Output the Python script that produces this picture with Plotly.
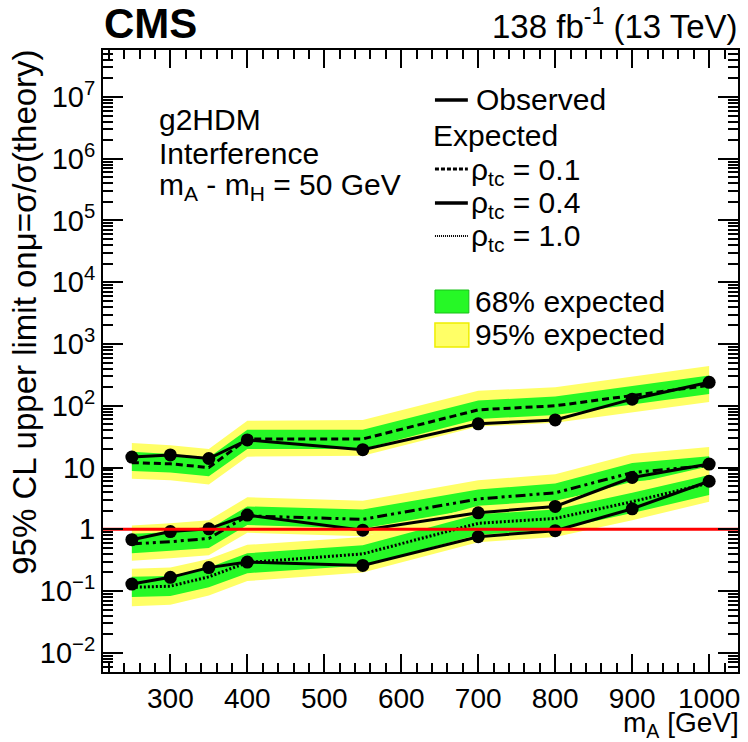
import plotly.graph_objects as go

# --- data -----------------------------------------------------------------
mass = [250, 300, 350, 400, 550, 700, 800, 900, 1000]

# rho_tc = 0.1
obs_01 = [14.8, 16.0, 14.0, 28.0, 19.5, 51.0, 59.0, 128.0, 240.0]
exp_01 = [12.0, 11.5, 10.0, 29.0, 29.0, 86.0, 100.0, 147.0, 215.0]
p2_01 = [25.0, 23.0, 20.0, 57.0, 59.0, 175.0, 200.0, 300.0, 440.0]
p1_01 = [18.0, 16.5, 14.5, 41.0, 41.0, 122.0, 142.0, 210.0, 310.0]
m1_01 = [8.8, 8.3, 7.2, 20.0, 20.0, 61.0, 71.0, 105.0, 155.0]
m2_01 = [6.6, 6.2, 5.3, 15.0, 15.5, 46.0, 53.0, 78.0, 115.0]

# rho_tc = 0.4
obs_04 = [0.68, 0.92, 1.02, 1.70, 0.97, 1.85, 2.35, 6.9, 11.4]
exp_04 = [0.58, 0.63, 0.71, 1.65, 1.45, 3.1, 3.9, 8.3, 10.8]
p2_04 = [1.15, 1.25, 1.40, 3.3, 2.9, 6.2, 7.8, 16.5, 21.5]
p1_04 = [0.85, 0.90, 1.00, 2.35, 2.1, 4.4, 5.5, 11.8, 15.3]
m1_04 = [0.41, 0.45, 0.50, 1.17, 1.03, 2.2, 2.8, 5.9, 7.7]
m2_04 = [0.31, 0.34, 0.38, 0.88, 0.77, 1.65, 2.1, 4.4, 5.8]

# rho_tc = 1.0
obs_10 = [0.13, 0.167, 0.24, 0.295, 0.26, 0.76, 0.95, 2.15, 6.0]
exp_10 = [0.115, 0.12, 0.17, 0.29, 0.40, 1.25, 1.5, 2.8, 5.6]
p2_10 = [0.23, 0.24, 0.33, 0.56, 0.75, 2.4, 2.9, 5.4, 10.5]
p1_10 = [0.17, 0.175, 0.24, 0.41, 0.55, 1.75, 2.1, 3.9, 7.6]
m1_10 = [0.08, 0.083, 0.115, 0.195, 0.26, 0.82, 0.98, 1.83, 3.6]
m2_10 = [0.057, 0.06, 0.085, 0.145, 0.20, 0.62, 0.75, 1.4, 2.8]

y_tickvals = [1e-2, 1e-1, 1, 10, 1e2, 1e3, 1e4, 1e5, 1e6, 1e7]
y_ticktext = ["10<sup>−2</sup>", "10<sup>−1</sup>", "1", "10", "10<sup>2</sup>",
              "10<sup>3</sup>", "10<sup>4</sup>", "10<sup>5</sup>",
              "10<sup>6</sup>", "10<sup>7</sup>"]
x_tickvals = [300, 400, 500, 600, 700, 800, 900, 1000]

# --- style ----------------------------------------------------------------
W, H = 748, 742
L, R, T, B = 103, 740, 50, 672          # frame in pixels
FONT = "Liberation Sans"
GREEN = "#26f826"
YELLOW = "#ffff66"
XR = [212.5, 1037.5]
YR = [-2.31, 7.76]


def px(x):
    return (x - L) / (R - L)


def py(y):
    return (B - y) / (B - T)


fig = go.Figure()

groups = [
    (obs_01, exp_01, p2_01, p1_01, m1_01, m2_01, "7px,4px"),
    (obs_04, exp_04, p2_04, p1_04, m1_04, m2_04, "10px,4px,3px,4px,3px,4px"),
    (obs_10, exp_10, p2_10, p1_10, m1_10, m2_10, "2px,2px"),
]

# uncertainty bands
for obs, exp, p2, p1, m1, m2, dash in groups:
    fig.add_trace(go.Scatter(
        x=mass + mass[::-1], y=p2 + m2[::-1], fill="toself",
        fillcolor=YELLOW, line=dict(width=0), mode="lines",
        hoverinfo="skip", showlegend=False))
    fig.add_trace(go.Scatter(
        x=mass + mass[::-1], y=p1 + m1[::-1], fill="toself",
        fillcolor=GREEN, line=dict(width=0), mode="lines",
        hoverinfo="skip", showlegend=False))

# expected medians
for obs, exp, p2, p1, m1, m2, dash in groups:
    fig.add_trace(go.Scatter(
        x=mass, y=exp, mode="lines",
        line=dict(color="black", width=3, dash=dash),
        showlegend=False))

# observed limits
for obs, exp, p2, p1, m1, m2, dash in groups:
    fig.add_trace(go.Scatter(
        x=mass, y=obs, mode="lines+markers",
        line=dict(color="black", width=3),
        marker=dict(color="black", size=13, symbol="circle"),
        showlegend=False))

# mu = 1 reference line
fig.add_trace(go.Scatter(
    x=XR, y=[1, 1], mode="lines", line=dict(color="#ff0000", width=3),
    hoverinfo="skip", showlegend=False))

# --- legend drawn by hand -------------------------------------------------
shapes = []
annots = []


def text(x, y, s, size=29, anchor="left", **kw):
    annots.append(dict(x=px(x), y=py(y), xref="paper", yref="paper", text=s,
                       showarrow=False, xanchor=anchor, yanchor="middle",
                       borderpad=0,
                       font=dict(family=FONT, size=size, color="black"), **kw))


def sample(y, width, dash):
    shapes.append(dict(type="line", xref="paper", yref="paper",
                       x0=px(436), x1=px(469), y0=py(y), y1=py(y),
                       line=dict(color="black", width=width, dash=dash)))


sample(100, 3.5, "solid")
text(476, 100, "Observed", size=30)
text(433, 135, "Expected", size=30)
sample(169, 3, "4px,2px")
text(471, 171, "ρ<sub>tc</sub> = 0.1", size=30)
sample(203, 3.5, "solid")
text(471, 205, "ρ<sub>tc</sub> = 0.4", size=30)
sample(236, 2, "1px,1px")
text(471, 237, "ρ<sub>tc</sub> = 1.0", size=30)

shapes.append(dict(type="rect", xref="paper", yref="paper",
                   x0=px(436), x1=px(470), y0=py(290), y1=py(313),
                   fillcolor=GREEN, line=dict(color="#18c018", width=1)))
text(475, 301, "68% expected", size=30)
shapes.append(dict(type="rect", xref="paper", yref="paper",
                   x0=px(436), x1=px(470), y0=py(323), y1=py(347),
                   fillcolor=YELLOW, line=dict(color="#eeee00", width=1.5)))
text(475, 334, "95% expected", size=30)

# model description
text(158, 120, "g2HDM", size=30)
text(158, 153, "Interference", size=30)
text(158, 186, "m<sub>A</sub> - m<sub>H</sub> = 50 GeV", size=30)

# header
annots.append(dict(x=px(102), y=py(24), xref="paper", yref="paper",
                   text="<b>CMS</b>", showarrow=False, xanchor="left",
                   yanchor="middle",
                   font=dict(family=FONT, size=42, color="black")))
annots.append(dict(x=px(742), y=py(24), xref="paper", yref="paper",
                   text="138 fb<sup>-1</sup> (13 TeV)", showarrow=False,
                   xanchor="right", yanchor="middle",
                   font=dict(family=FONT, size=33, color="black")))

# axis titles
annots.append(dict(x=px(742), y=py(743), xref="paper", yref="paper",
                   text="m<sub>A</sub> [GeV]", showarrow=False,
                   xanchor="right", yanchor="bottom", borderpad=0,
                   font=dict(family=FONT, size=28, color="black")))
annots.append(dict(x=px(24), y=py(48), xref="paper", yref="paper",
                   text="95% CL upper limit onμ=σ/σ(theory)",
                   showarrow=False, textangle=-90,
                   xanchor="center", yanchor="top",
                   font=dict(family=FONT, size=33, color="black")))

fig.update_layout(
    width=W, height=H,
    margin=dict(l=L, r=W - R, t=T, b=H - B, pad=0),
    paper_bgcolor="white", plot_bgcolor="white",
    showlegend=False,
    shapes=shapes, annotations=annots,
    font=dict(family=FONT, size=28, color="black"),
)

fig.update_xaxes(
    range=XR, tickvals=x_tickvals, showgrid=False, zeroline=False,
    showline=True, linecolor="black", linewidth=2, mirror="allticks",
    ticks="inside", ticklen=18, tickwidth=1.5, tickcolor="black",
    tickfont=dict(family=FONT, size=28, color="black"),
    minor=dict(tick0=0, dtick=20, ticks="inside", ticklen=9, tickwidth=1.5,
               tickcolor="black", showgrid=False),
)
fig.update_yaxes(
    type="log", range=YR, tickvals=y_tickvals, ticktext=y_ticktext,
    showgrid=False, zeroline=False,
    showline=True, linecolor="black", linewidth=2, mirror="allticks",
    ticks="inside", ticklen=20, tickwidth=1.5, tickcolor="black",
    tickfont=dict(family=FONT, size=29, color="black"),
    minor=dict(dtick="D1", ticks="inside", ticklen=10, tickwidth=1.5,
               tickcolor="black", showgrid=False),
)

fig.write_html("out.html")
